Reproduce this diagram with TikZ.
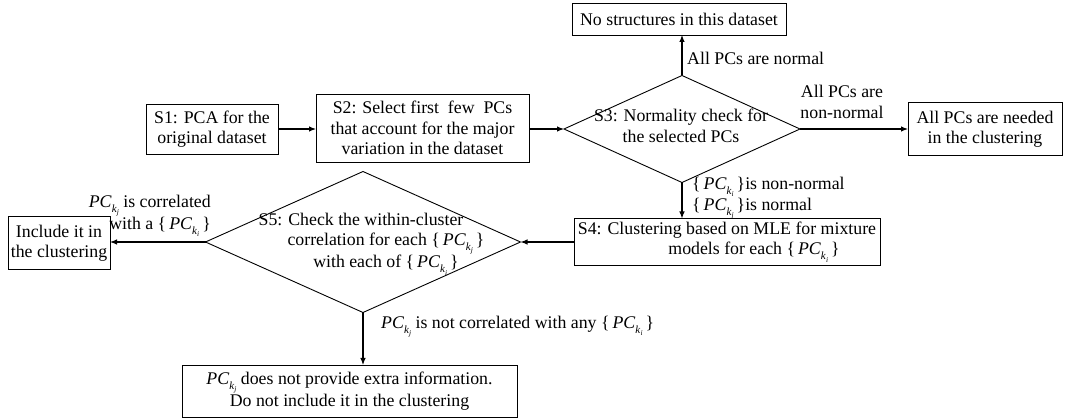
\documentclass[tikz,border=0pt]{standalone}
\usepackage{fontspec}
\setmainfont{Liberation Serif}
\usetikzlibrary{shapes.geometric,arrows.meta}
\newcommand\PCk[1]{\textit{PC}\raisebox{-0.28em}{\fontsize{11}{11}\selectfont\textit{k}\raisebox{-0.2em}{\fontsize{7.5}{7.5}\selectfont\textit{#1}}}}
\newcommand\PCset[1]{\{\,\PCk{#1}\,\}}
\begin{document}
\begin{tikzpicture}[x=1pt,y=-1pt, font=\fontsize{17.8}{20.5}\selectfont,
 box/.style={draw, line width=0.9pt, align=center, inner sep=0pt, outer sep=0pt},
 dia/.style={diamond, draw, line width=0.9pt, inner sep=0pt, outer sep=0pt},
 arr/.style={line width=1.1pt, -{Latex[length=7pt,width=5.5pt]}},
 lbl/.style={inner sep=0pt}]
\useasboundingbox (0,0) rectangle (1076,419);
\node[box, minimum width=132pt, minimum height=50pt] (s1) at (212,129) {S1: PCA for the\\original dataset};
\node[box, minimum width=213pt, minimum height=68pt] (s2) at (422.5,128) {S2: Select first\ \ few\ \ PCs\\that account for the major\\variation in the dataset};
\node[dia, minimum width=236pt, minimum height=107pt] (s3) at (682,129) {};
\node[lbl, align=center] (s3t) at (681,126) {S3: Normality check for\\the selected PCs};
\node[box, minimum width=214pt, minimum height=32pt] (none) at (679,19) {No structures in this dataset};
\node[box, minimum width=154pt, minimum height=53pt] (all) at (985,129) {All PCs are needed\\in the clustering};
\node[box, minimum width=306pt, minimum height=47pt] (s4) at (727,242) {S4: Clustering based on MLE for mixture\\\hspace*{54pt}models for each \PCset{i}};
\node[dia, minimum width=315pt, minimum height=141pt] (s5) at (363,242) {};
\node[lbl, align=center] (s5t) at (386,244) {S5: Check the within-cluster\hspace*{50pt}\\correlation for each \PCset{j}\\with each of \PCset{i}};
\node[box, minimum width=102pt, minimum height=53pt] (inc) at (59,243) {Include it in\\the clustering};
\node[box, minimum width=335pt, minimum height=52pt] (no) at (349.5,391) {\PCk{j} does not provide extra information.\\Do not include it in the clustering};
\draw[arr] (s1.east) -- (s2.west |- s1.east);
\draw[arr] (s2.east |- s3.west) -- (s3.west);
\draw[arr] (s3.north) -- (s3.north |- none.south);
\draw[arr] (s3.east) -- (s3.east -| all.west);
\draw[arr] (s3.south) -- (s3.south |- s4.north);
\draw[arr] (s4.west |- s5.east) -- (s5.east);
\draw[arr] (s5.west) -- (s5.west -| inc.east);
\draw[arr] (s5.south) -- (s5.south |- no.north);
\node[lbl, anchor=west] (l1) at (687,58) {All PCs are normal};
\node[lbl, align=center] (l2) at (842,102) {All PCs are\\non-normal};
\node[lbl, align=left, anchor=west] (l3) at (692,198) {\PCset{i}is non-normal\\\PCset{j}is normal};
\node[lbl, align=right, anchor=east] (l4) at (211,216) {\PCk{j} is correlated\\with a \PCset{i}};
\node[lbl, anchor=west] (l5) at (381,327) {\PCk{j} is not correlated with any \PCset{i}};
\end{tikzpicture}
\end{document}
